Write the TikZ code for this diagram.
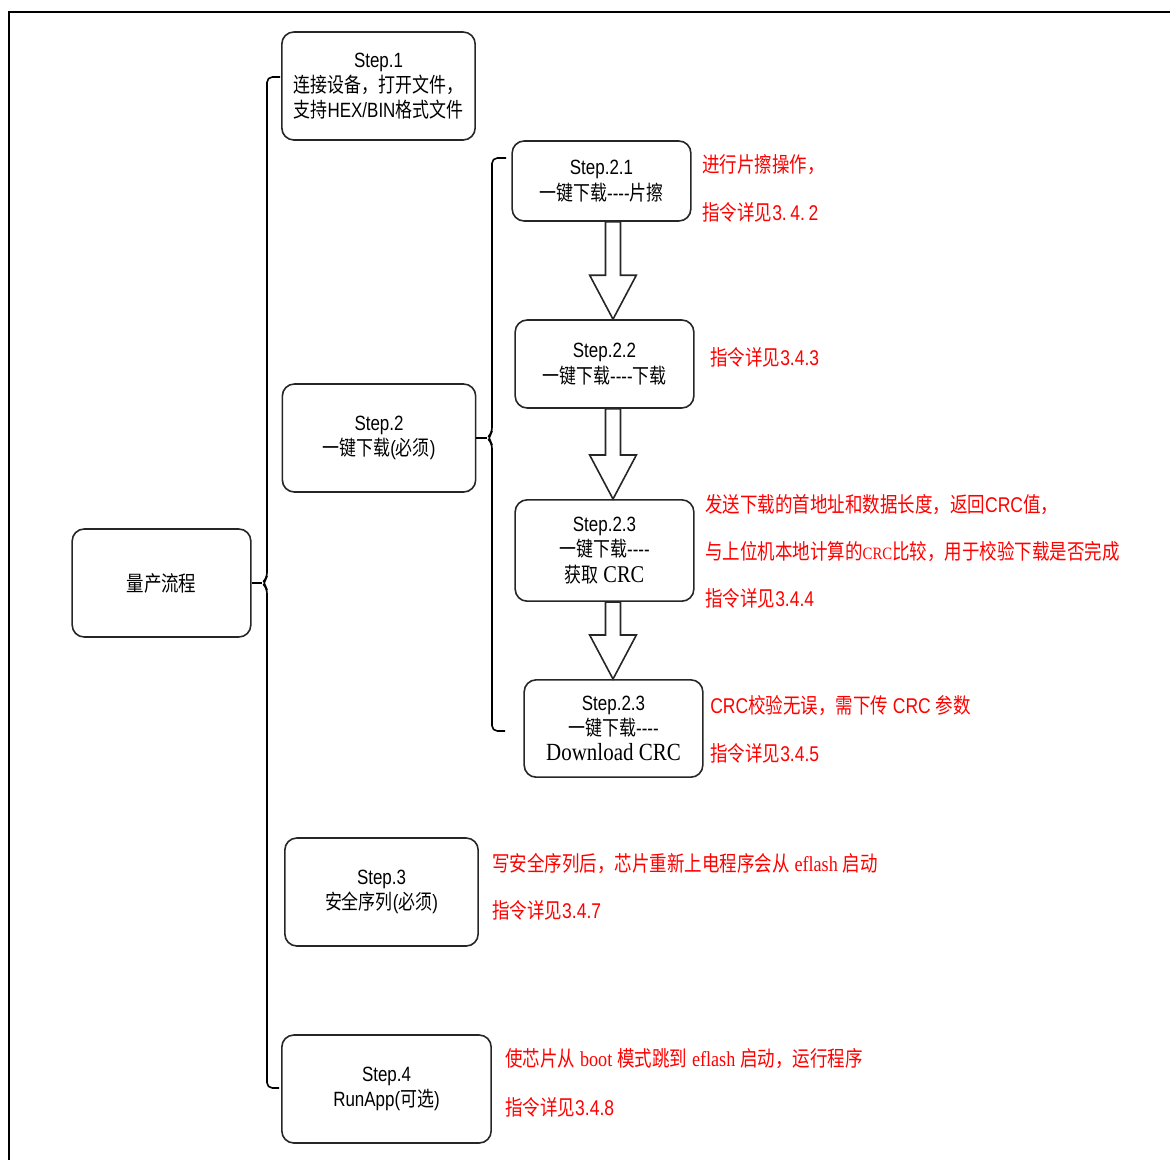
\documentclass[tikz,border=0pt]{standalone}
\usepackage{fontspec}
\setmainfont[FakeStretch=0.82]{Liberation Sans}
\newfontfamily\zh[FakeStretch=0.82]{Noto Sans CJK SC}
\newfontfamily\rmcrc[FakeStretch=0.85]{Liberation Serif}
\usetikzlibrary{calc}

\tikzset{
  stepbox/.style={draw=black!85,line width=1.2pt,rounded corners=9pt,align=center,inner sep=2pt,
    font=\fontsize{15.5}{19}\selectfont},
  note/.style={text=red,anchor=west,inner sep=0pt,font=\fontsize{16}{18}\selectfont},
  brace/.style={line width=1.2pt,rounded corners=4pt},
  fatarrow/.style={draw=black!85,line width=1.2pt,fill=white,line join=miter}
}
% hollow block arrow pointing down, from #1 to #2
\newcommand{\hollowdown}[2]{%
  \path[fatarrow] let \p1=(#1), \p2=(#2) in
    (\x1-5.6pt,\y1) -- (\x1+5.6pt,\y1) -- (\x1+5.6pt,\y2+33pt) -- (\x1+17.5pt,\y2+33pt)
    -- (\x1,\y2) -- (\x1-17.5pt,\y2+33pt) -- (\x1-5.6pt,\y2+33pt) -- cycle;}
\newcommand{\dashes}{-{}-{}-{}-}

\begin{document}
\begin{tikzpicture}[x=0.75pt,y=-0.75pt]
\useasboundingbox (0,0) rectangle (1170,1160);
\draw[line width=2.2pt] (9,1160) -- (9,12) -- (1170,12);

% main boxes
\node[stepbox,minimum width=134pt,minimum height=81pt,font=\fontsize{16}{19}\selectfont] (root) at (161.5,583) {\zh 量产流程};
\node[stepbox,minimum width=145pt,minimum height=81pt] (s1) at (378.5,86) {Step.1\\{\zh 连接设备，打开文件，}\\{\zh 支持}HEX/BIN{\zh 格式文件}};
\node[stepbox,minimum width=145pt,minimum height=81pt] (s2) at (379,438) {Step.2\\{\zh 一键下载}({\zh 必须})};
\node[stepbox,minimum width=145pt,minimum height=81pt] (s3) at (381.5,892) {Step.3\\{\zh 安全序列}({\zh 必须})};
\node[stepbox,minimum width=157pt,minimum height=81pt] (s4) at (386.5,1089) {Step.4\\RunApp({\zh 可选})};

% download sub steps
\node[stepbox,minimum width=134pt,minimum height=60pt] (s21) at (601.5,181) {Step.2.1\\{\zh 一键下载}\dashes{\zh 片擦}};
\node[stepbox,minimum width=134pt,minimum height=66pt] (s22) at (604.5,364) {Step.2.2\\{\zh 一键下载}\dashes{\zh 下载}};
\node[stepbox,minimum width=134pt,minimum height=76pt] (s23) at (604.5,550.5) {Step.2.3\\{\zh 一键下载}\dashes\\{\zh 获取} {\rmcrc\fontsize{18}{19}\selectfont CRC}};
\node[stepbox,minimum width=134pt,minimum height=73pt] (s24) at (613.5,728.5) {Step.2.3\\{\zh 一键下载}\dashes\\{\rmcrc\fontsize{18.5}{19}\selectfont Download CRC}};

% brackets
\coordinate (b1t) at (280,77);
\coordinate (b1b) at (279,1088);
\draw[line width=1.2pt] (root.east) -- (262,583);
\draw[brace] (b1t) -- (267,77) -- (267,578) -- (262,583) -- (267,588) -- (267,1088) -- (b1b);
\coordinate (b2t) at (506,158);
\coordinate (b2b) at (505,731);
\draw[line width=1.2pt] (s2.east) -- (487,438);
\draw[brace] (b2t) -- (492,158) -- (492,433) -- (487,438) -- (492,443) -- (492,731) -- (b2b);

% block arrows
\coordinate (ax) at (613,0);
\hollowdown{s21.south -| ax}{s22.north -| ax}
\hollowdown{s22.south -| ax}{s23.north -| ax}
\hollowdown{s23.south -| ax}{s24.north -| ax}

% notes
\node[note] (n21a) at (702,165) {\zh 进行片擦操作，};
\node[note] (n21b) at (702,212) {{\zh 指令详见}3.\,4.\,2};
\node[note] (n22) at (710,357) {{\zh 指令详见}3.4.3};
\node[note] (n23a) at (705,505) {{\zh 发送下载的首地址和数据长度，返回}CRC{\zh 值，}};
\node[note] (n23b) at (705,552) {{\zh 与上位机本地计算的}{\rmcrc\fontsize{13}{18}\selectfont CRC}{\zh 比较，用于校验下载是否完成}};
\node[note] (n23c) at (705,598) {{\zh 指令详见}3.4.4};
\node[note] (n24a) at (710,706) {CRC{\zh 校验无误，需下传} CRC {\zh 参数}};
\node[note] (n24b) at (710,753) {{\zh 指令详见}3.4.5};
\node[note] (n3a) at (492,864) {{\zh 写安全序列后，芯片重新上电程序会从} {\rmcrc eflash} {\zh 启动}};
\node[note] (n3b) at (492,910) {{\zh 指令详见}3.4.7};
\node[note] (n4a) at (505,1059) {{\zh 使芯片从} {\rmcrc boot} {\zh 模式跳到} {\rmcrc eflash} {\zh 启动，运行程序}};
\node[note] (n4b) at (505,1107) {{\zh 指令详见}3.4.8};
\end{tikzpicture}
\end{document}
